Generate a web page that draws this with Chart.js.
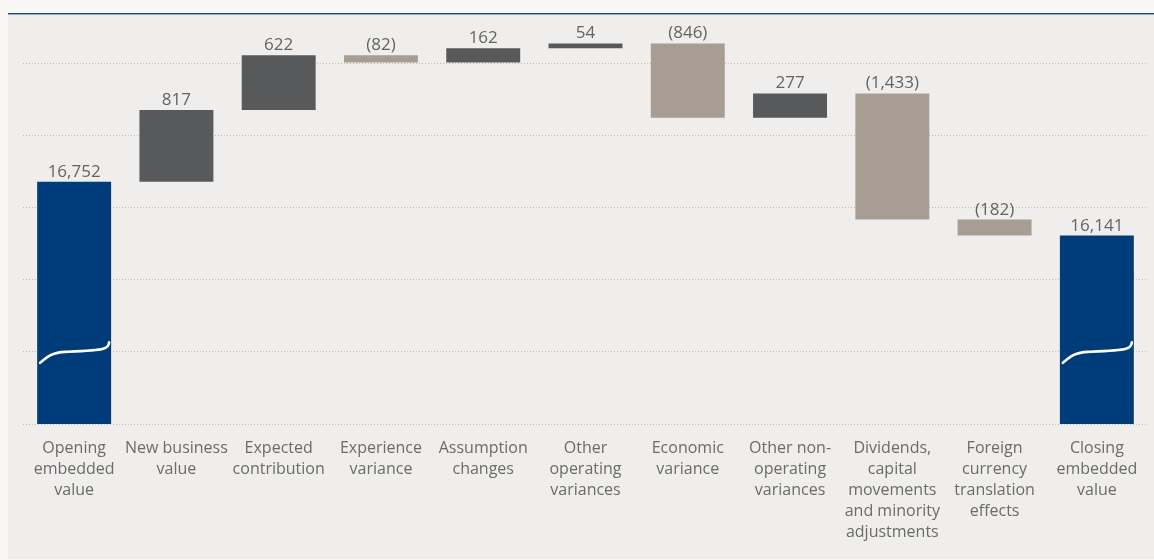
<!DOCTYPE html>
<html>
<head>
<meta charset="utf-8">
<script src="https://cdn.jsdelivr.net/npm/chart.js@4"></script>
<style>
  html, body { margin: 0; padding: 0; background: #f8f7f5; }
  #panel {
    position: absolute; left: 8px; top: 13px; width: 1146px; height: 545px;
    background: #efeeec; border-top: 1px solid #1d4a7c;
    box-shadow: inset 0 1px 0 #8ea8c6;
  }
  #wrap { position: absolute; left: 0; top: 1px; width: 1146px; height: 545px; }
</style>
</head>
<body>
<div id="panel"><div id="wrap"><canvas id="evChart"></canvas></div></div>
<script>
// Embedded value waterfall (broken axis)
const categories = [
  ['Opening', 'embedded', 'value'],
  ['New business', 'value'],
  ['Expected', 'contribution'],
  ['Experience', 'variance'],
  ['Assumption', 'changes'],
  ['Other', 'operating', 'variances'],
  ['Economic', 'variance'],
  ['Other non-', 'operating', 'variances'],
  ['Dividends,', 'capital', 'movements', 'and minority', 'adjustments'],
  ['Foreign', 'currency', 'translation', 'effects'],
  ['Closing', 'embedded', 'value']
];
const openingValue = 16752;
const movements = [817, 622, -82, 162, 54, -846, 277, -1433, -182];
const closingValue = 16141;

// axis is cut: bottom of the plot stands for this value
const axisMin = 14000;
const axisMax = 18591;
const gridStep = 820;

const navy = '#003b7a';
const upGrey = '#58595b';
const downTaupe = '#a89d93';

// build floating bars
const ranges = [[axisMin, openingValue]];
const colours = [navy];
let running = openingValue;
movements.forEach(m => {
  ranges.push([running, running + m]);
  colours.push(m >= 0 ? upGrey : downTaupe);
  running += m;
});
ranges.push([axisMin, closingValue]);
colours.push(navy);
const shownValues = [openingValue, ...movements, closingValue];

function fmt(v) {
  const s = Math.abs(v).toLocaleString('en-US');
  return v < 0 ? '(' + s + ')' : s;
}

const valueLabels = {
  id: 'valueLabels',
  afterDatasetsDraw(chart) {
    const ctx = chart.ctx;
    const meta = chart.getDatasetMeta(0);
    ctx.save();
    ctx.font = '17px "Open Sans"';
    ctx.fillStyle = '#636363';
    ctx.textAlign = 'center';
    ctx.textBaseline = 'alphabetic';
    meta.data.forEach((bar, i) => {
      const top = Math.min(bar.y, bar.base);
      ctx.fillText(fmt(shownValues[i]), bar.x, top - 5);
    });
    ctx.restore();
  }
};

// white squiggle marking the axis break on the total bars
const breakMarks = {
  id: 'breakMarks',
  afterDatasetsDraw(chart) {
    const ctx = chart.ctx;
    const meta = chart.getDatasetMeta(0);
    const yb = chart.scales.y.getPixelForValue(axisMin + gridStep);
    [0, meta.data.length - 1].forEach(i => {
      const bar = meta.data[i];
      const L = bar.x - bar.width / 2;
      const k = bar.width / 74;
      ctx.save();
      ctx.strokeStyle = '#ffffff';
      ctx.lineWidth = 2.6;
      ctx.lineCap = 'round';
      ctx.beginPath();
      ctx.moveTo(L + 3 * k, yb + 11);
      ctx.bezierCurveTo(L + 11 * k, yb + 4, L + 16 * k, yb + 0.5, L + 28 * k, yb);
      ctx.bezierCurveTo(L + 42 * k, yb - 0.5, L + 60 * k, yb - 1, L + 66 * k, yb - 3);
      ctx.quadraticCurveTo(L + 71.5 * k, yb - 4.5, L + 72 * k, yb - 9.5);
      ctx.stroke();
      ctx.restore();
    });
  }
};

new Chart(document.getElementById('evChart'), {
  type: 'bar',
  data: {
    labels: categories,
    datasets: [{
      data: ranges,
      backgroundColor: colours,
      borderWidth: 0,
      categoryPercentage: 1,
      barPercentage: 0.723
    }]
  },
  options: {
    responsive: true,
    maintainAspectRatio: false,
    animation: false,
    layout: { padding: { left: 15, right: 6, top: 5, bottom: 0 } },
    plugins: { legend: { display: false }, tooltip: { enabled: false } },
    scales: {
      x: {
        grid: { display: false },
        border: { display: false },
        afterFit(scale) { scale.height = 136; },
        ticks: {
          autoSkip: false, maxRotation: 0, minRotation: 0,
          color: '#6b6b6b',
          font: { family: '"Open Sans"', size: 16, lineHeight: 1.31 },
          padding: 6
        }
      },
      y: {
        min: axisMin,
        max: axisMax,
        afterBuildTicks(scale) {
          const t = [];
          for (let v = axisMin; v <= axisMax; v += gridStep) t.push({ value: v });
          scale.ticks = t;
        },
        grid: { color: '#bfb6ac', lineWidth: 1, drawTicks: false },
        border: { display: false, dash: [1, 2] },
        ticks: { display: false }
      }
    }
  },
  plugins: [valueLabels, breakMarks]
});
</script>
</body>
</html>
